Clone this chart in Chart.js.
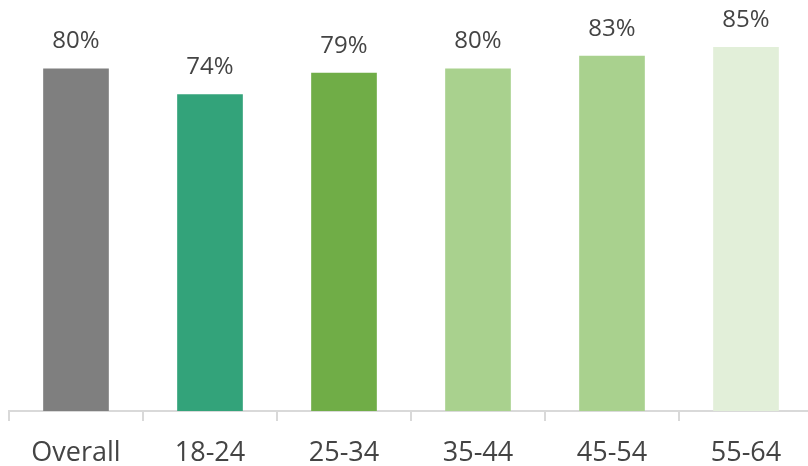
<!DOCTYPE html>
<html>
<head>
<meta charset="utf-8">
<script src="https://cdn.jsdelivr.net/npm/chart.js@4/dist/chart.umd.min.js"></script>
<style>
  html, body { margin: 0; padding: 0; background: #fff; overflow: hidden; }
  .wrap { width: 813px; height: 466px; position: relative; }
</style>
</head>
<body>
<div class="wrap"><canvas id="chart"></canvas></div>
<script>
const categories = ['Overall', '18-24', '25-34', '35-44', '45-54', '55-64'];
const values = [80, 74, 79, 80, 83, 85];
const barColors = ['#7f7f7f', '#33a37a', '#70ad47', '#a9d18e', '#a9d18e', '#e2efd9'];

const FONT = '"Open Sans", "Liberation Sans", sans-serif';
const TEXT_COLOR = '#444444';

// draw the percentage above each bar
const valueLabels = {
    id: 'valueLabels',
    afterDatasetsDraw(chart) {
        const ctx = chart.ctx;
        const meta = chart.getDatasetMeta(0);
        ctx.save();
        ctx.font = '24px ' + FONT;
        ctx.fillStyle = TEXT_COLOR;
        ctx.textAlign = 'center';
        ctx.textBaseline = 'middle';
        meta.data.forEach((bar, i) => {
            ctx.fillText(values[i] + '%', bar.x, bar.y - 27);
        });
        ctx.restore();
    }
};

new Chart(document.getElementById('chart'), {
    type: 'bar',
    data: {
        labels: categories,
        datasets: [{
            data: values,
            backgroundColor: barColors,
            barPercentage: 0.49,
            categoryPercentage: 1
        }]
    },
    options: {
        responsive: true,
        maintainAspectRatio: false,
        animation: false,
        layout: { padding: { left: 9, right: 0, top: 0, bottom: 0 } },
        plugins: {
            legend: { display: false },
            tooltip: { enabled: false }
        },
        scales: {
            x: {
                afterFit(scale) { scale.height = 55; },
                grid: {
                    offset: true,
                    drawOnChartArea: false,
                    drawTicks: true,
                    tickLength: 10,
                    color: '#d9d9d9',
                    lineWidth: 2
                },
                border: { color: '#d9d9d9', width: 2 },
                ticks: {
                    color: TEXT_COLOR,
                    font: { family: FONT, size: 27 },
                    padding: 16
                }
            },
            y: {
                display: false,
                min: 0,
                max: 96
            }
        }
    },
    plugins: [valueLabels]
});
</script>
</body>
</html>
